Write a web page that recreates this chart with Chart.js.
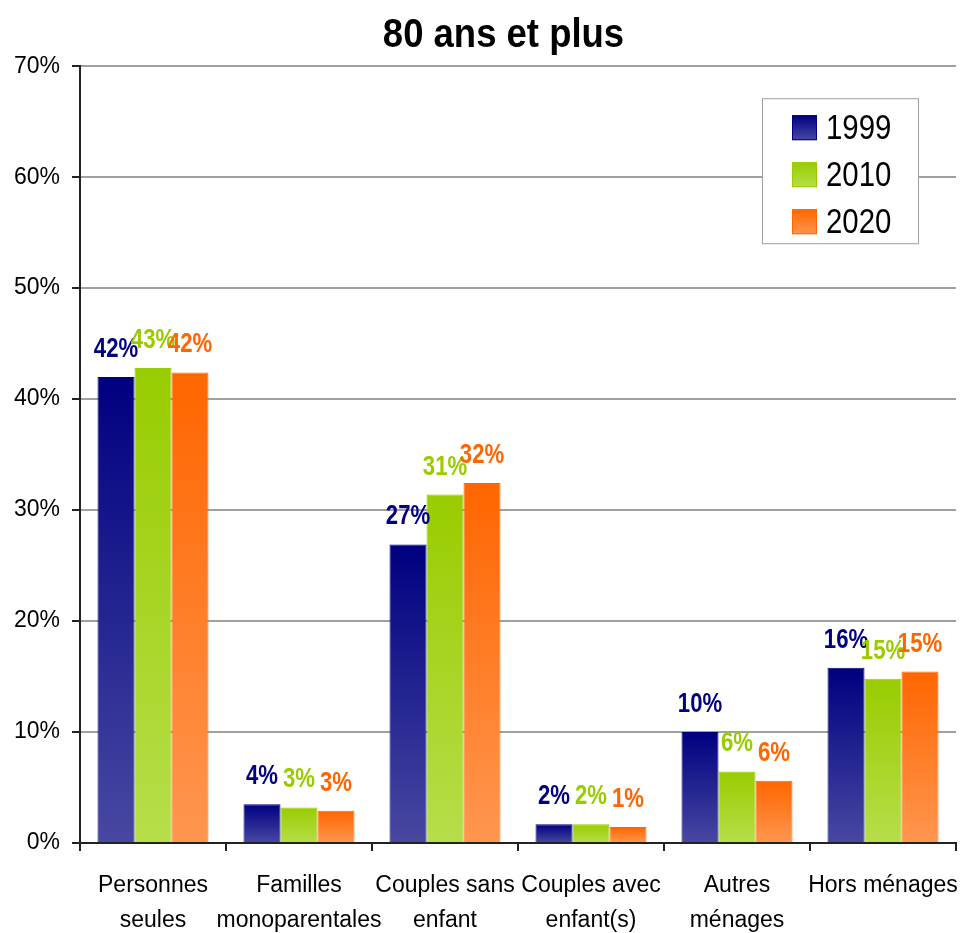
<!DOCTYPE html>
<html>
<head>
<meta charset="utf-8">
<script src="https://cdn.jsdelivr.net/npm/chart.js@4/dist/chart.umd.min.js"></script>
<style>
  html, body { margin: 0; padding: 0; background: #fff; }
  #wrap { width: 961px; height: 933px; }
</style>
</head>
<body>
<div id="wrap"><canvas id="householdChart" width="961" height="933"></canvas></div>
<script>
// Categories and series (percent of people aged 80+)
var chartTitle = "80 ans et plus";
var categories = [
    ["Personnes", "seules"],
    ["Familles", "monoparentales"],
    ["Couples sans", "enfant"],
    ["Couples avec", "enfant(s)"],
    ["Autres", "ménages"],
    ["Hors ménages"]
];
var years = ["1999", "2010", "2020"];
var values1999 = [42.0, 3.5, 26.9, 1.7, 10.0, 15.8];
var values2010 = [42.8, 3.2, 31.4, 1.7, 6.45, 14.8];
var values2020 = [42.4, 2.9, 32.45, 1.45, 5.6, 15.45];
var yTicks = [0, 10, 20, 30, 40, 50, 60, 70];

// colours: dark top, light bottom
var topColors = ["#000080", "#99cc00", "#ff6600"];
var bottomColors = ["#4848a2", "#b6de4a", "#ff9650"];

var sans = "'Liberation Sans', Arial, sans-serif";

function barGradient(i) {
    return function (context) {
        var chart = context.chart;
        if (!chart.chartArea || context.raw === undefined) return topColors[i];
        var y = chart.scales.y;
        var top = y.getPixelForValue(context.raw);
        var bottom = y.getPixelForValue(0);
        if (!isFinite(top) || top === bottom) return topColors[i];
        var g = chart.ctx.createLinearGradient(0, top, 0, bottom);
        g.addColorStop(0, topColors[i]);
        g.addColorStop(1, bottomColors[i]);
        return g;
    };
}

// text squeezed horizontally to look like a narrow face
function narrowText(ctx, text, x, y, squeeze) {
    ctx.save();
    ctx.translate(x, y);
    ctx.scale(squeeze, 1);
    ctx.fillText(text, 0, 0);
    ctx.restore();
}

// title, a bit condensed, centred slightly right like the original
var condensedTitle = {
    id: "condensedTitle",
    afterDraw: function (chart) {
        var ctx = chart.ctx;
        ctx.save();
        ctx.font = "bold 41px " + sans;
        ctx.fillStyle = "#000";
        ctx.textAlign = "center";
        ctx.textBaseline = "alphabetic";
        narrowText(ctx, chartTitle, chart.width / 2 + 23, 47, 0.89);
        ctx.restore();
    }
};

// value labels above each bar
var valueLabels = {
    id: "valueLabels",
    afterDatasetsDraw: function (chart) {
        var ctx = chart.ctx;
        ctx.save();
        ctx.font = "bold 27px " + sans;
        ctx.textAlign = "center";
        ctx.textBaseline = "alphabetic";
        chart.data.datasets.forEach(function (ds, i) {
            chart.getDatasetMeta(i).data.forEach(function (bar, j) {
                ctx.fillStyle = topColors[i];
                narrowText(ctx, Math.round(ds.data[j]) + "%", bar.x, bar.y - 20, 0.82);
            });
        });
        ctx.restore();
    }
};

// boxed legend inside the plot area, top right
var boxLegend = {
    id: "boxLegend",
    afterDraw: function (chart) {
        var ctx = chart.ctx;
        var area = chart.chartArea;
        var w = 156, h = 145;
        var x = area.right - 38 - w, y = area.top + 32;
        ctx.save();
        ctx.fillStyle = "#fff";
        ctx.fillRect(x, y, w, h);
        ctx.strokeStyle = "#a0a0a0";
        ctx.lineWidth = 1;
        ctx.strokeRect(x + 0.5, y + 0.5, w, h);
        ctx.font = "35px " + sans;
        ctx.textBaseline = "middle";
        ctx.textAlign = "left";
        chart.data.datasets.forEach(function (ds, i) {
            var cy = y + 29 + i * 47;
            var g = ctx.createLinearGradient(0, cy - 12, 0, cy + 13);
            g.addColorStop(0, topColors[i]);
            g.addColorStop(1, bottomColors[i]);
            ctx.fillStyle = g;
            ctx.fillRect(x + 30, cy - 12, 25, 25);
            ctx.strokeStyle = topColors[i];
            ctx.strokeRect(x + 30.5, cy - 11.5, 24, 24);
            ctx.fillStyle = "#000";
            narrowText(ctx, ds.label, x + 64, cy + 2, 0.84);
        });
        ctx.restore();
    }
};

var ctx = document.getElementById("householdChart").getContext("2d");

var chart = new Chart(ctx, {
    type: "bar",
    data: {
        labels: categories,
        datasets: [
            { label: years[0], data: values1999, backgroundColor: barGradient(0), borderColor: topColors[0], borderWidth: 1 },
            { label: years[1], data: values2010, backgroundColor: barGradient(1), borderColor: topColors[1], borderWidth: 1 },
            { label: years[2], data: values2020, backgroundColor: barGradient(2), borderColor: topColors[2], borderWidth: 1 }
        ]
    },
    options: {
        responsive: false,
        animation: false,
        layout: { padding: { left: 0, right: 5, top: 0, bottom: 0 } },
        datasets: { bar: { categoryPercentage: 0.76, barPercentage: 1.0 } },
        plugins: {
            legend: { display: false },
            tooltip: { enabled: false },
            // keeps the room above the plot; the visible title is drawn by condensedTitle
            title: {
                display: true,
                text: chartTitle,
                color: "rgba(0,0,0,0)",
                font: { family: sans, size: 36, weight: "bold" },
                padding: { top: 11, bottom: 12 }
            }
        },
        scales: {
            x: {
                grid: {
                    offset: true,
                    color: function (c) { return c.index === categories.length ? "#a0a0a0" : "rgba(0,0,0,0)"; },
                    lineWidth: 2,
                    tickColor: "#222",
                    tickLength: 8
                },
                border: { color: "#222", width: 2 },
                ticks: {
                    color: "#000",
                    font: { family: sans, size: 23, lineHeight: 1.52 },
                    padding: 17,
                    maxRotation: 0,
                    autoSkip: false
                },
                afterFit: function (scale) {
                    scale.height = 90;
                    scale.paddingLeft = 0;
                    scale.paddingRight = 0;
                }
            },
            y: {
                min: 0,
                max: 70,
                afterBuildTicks: function (scale) {
                    scale.ticks = yTicks.map(function (v) { return { value: v }; });
                },
                grid: { color: "#a0a0a0", lineWidth: 2, tickColor: "#222", tickLength: 8 },
                border: { color: "#222", width: 2 },
                ticks: {
                    color: "#000",
                    font: { family: sans, size: 23 },
                    padding: 12,
                    callback: function (v) { return v + "%"; }
                },
                afterFit: function (scale) { scale.width = 80; }
            }
        }
    },
    plugins: [valueLabels, boxLegend, condensedTitle]
});
</script>
</body>
</html>
